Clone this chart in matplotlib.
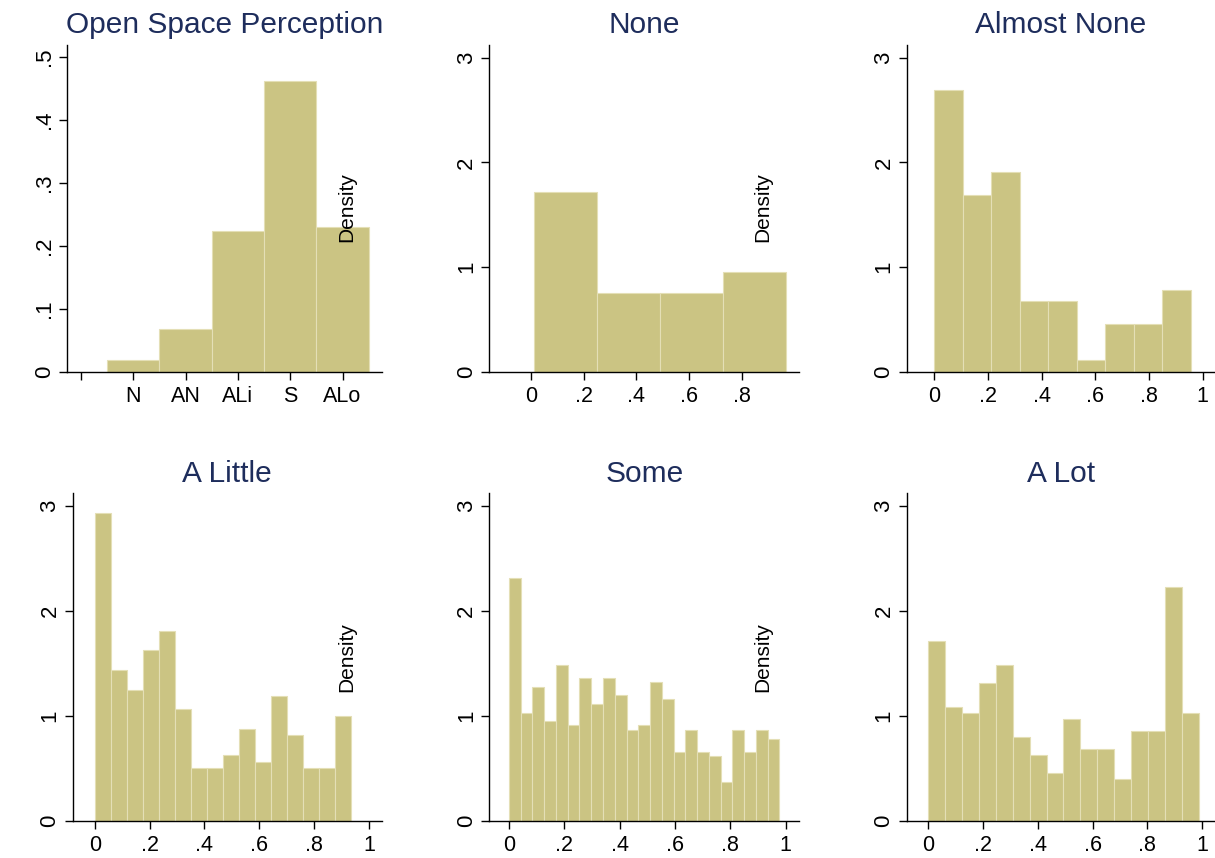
import numpy as np
import matplotlib
matplotlib.use("Agg")
import matplotlib.pyplot as plt

plt.rcParams["font.family"] = ["Liberation Sans", "DejaVu Sans"]

# ---- data ----
titles = ["Open Space Perception", "None", "Almost None", "A Little", "Some", "A Lot"]

# panel 1: categorical histogram
cat_pos = [1, 2, 3, 4, 5]
cat_labels = ["", "N", "AN", "ALi", "S", "ALo"]
cat_density = [0.019, 0.068, 0.223, 0.462, 0.230]

# panels 2-6: share histograms (bin start, bin width, densities)
none_start, none_width = 0.0125, 0.2386
none_density = [1.715, 0.757, 0.757, 0.954]

almost_start, almost_width = 0.0, 0.1061
almost_density = [2.695, 1.686, 1.908, 0.675, 0.675, 0.112, 0.455, 0.455, 0.786]

little_start, little_width = 0.0, 0.0584
little_density = [2.929, 1.439, 1.248, 1.624, 1.809, 1.064, 0.500, 0.500,
                  0.627, 0.873, 0.561, 1.185, 0.816, 0.500, 0.500, 1.000]

some_start, some_width = 0.0, 0.04248
some_density = [2.309, 1.029, 1.277, 0.946, 1.484, 0.911, 1.360, 1.111,
                1.360, 1.194, 0.863, 0.911, 1.318, 1.156, 0.656, 0.863,
                0.656, 0.618, 0.373, 0.863, 0.656, 0.863, 0.780]

lot_start, lot_width = 0.0, 0.0617
lot_density = [1.713, 1.086, 1.029, 1.312, 1.484, 0.796, 0.627, 0.455,
               0.968, 0.685, 0.685, 0.401, 0.857, 0.857, 2.229, 1.029]

share_ticks = [0, 0.2, 0.4, 0.6, 0.8, 1]
share_labels = ["0", ".2", ".4", ".6", ".8", "1"]

BAR = "#CBC483"
EDGE = "#E4DFB6"
TITLE = "#1E2D5C"

W, H = 1215, 858
fig = plt.figure(figsize=(W / 100, H / 100), dpi=100)
fig.patch.set_facecolor("white")

# plot regions in pixels: left, top, right, bottom
boxes = [
    (67, 45, 382, 372),
    (489.3, 45, 799.3, 372),
    (906.7, 45, 1215, 372),
    (72.7, 493.3, 381.7, 820.7),
    (489.3, 493.3, 799.3, 820.7),
    (906.7, 493.3, 1215, 820.7),
]
xlims = [(-0.268, 5.755), (-0.158, 1.018), (-0.103, 1.046),
         (-0.081, 1.047), (-0.071, 1.049), (-0.079, 1.047)]


def make_ax(box):
    l, t, r, b = box
    ax = fig.add_axes([l / W, 1 - b / H, (r - l) / W, (b - t) / H])
    for s in ("top", "right"):
        ax.spines[s].set_visible(False)
    for s in ("left", "bottom"):
        ax.spines[s].set_linewidth(1.0)
    ax.tick_params(length=5.8, width=1.0, color="black")
    ax.tick_params(axis="x", pad=4.3, labelsize=15.5)
    ax.tick_params(axis="y", pad=3.0, labelsize=16, labelrotation=90)
    return ax


def hist(ax, start, width, dens):
    x = start + width * np.arange(len(dens))
    ax.bar(x, dens, width=width, align="edge", color=BAR,
           edgecolor=EDGE, linewidth=0.8)


axes = [make_ax(b) for b in boxes]

# panel 1
ax = axes[0]
ax.bar(cat_pos, cat_density, width=1.0, color=BAR, edgecolor=EDGE, linewidth=0.8)
ax.set_xticks(range(6))
ax.set_xticklabels(cat_labels)
ax.set_ylim(0, 0.519)
ax.set_yticks([0, 0.1, 0.2, 0.3, 0.4, 0.5])
ax.set_yticklabels(["0", ".1", ".2", ".3", ".4", ".5"], rotation=90, va="center")

series = [
    (none_start, none_width, none_density),
    (almost_start, almost_width, almost_density),
    (little_start, little_width, little_density),
    (some_start, some_width, some_density),
    (lot_start, lot_width, lot_density),
]
for ax, (st, wd, dn) in zip(axes[1:], series):
    hist(ax, st, wd, dn)
    ax.set_ylim(0, 3.12)
    ax.set_yticks([0, 1, 2, 3])
    ax.set_yticklabels(["0", "1", "2", "3"], rotation=90, va="center")

axes[1].set_xticks(share_ticks[:-1])
axes[1].set_xticklabels(share_labels[:-1])
for ax in axes[2:]:
    ax.set_xticks(share_ticks)
    ax.set_xticklabels(share_labels)

for ax, xl, t in zip(axes, xlims, titles):
    ax.set_xlim(*xl)
    ax.set_title(t, fontsize=21.5, color=TITLE, pad=8.4)

# stray "Density" titles
for fx, fy in [(347, 207.5), (763, 207.5), (347, 657.5), (763, 657.5)]:
    fig.text(fx / W, 1 - fy / H, "Density", rotation=90, fontsize=15,
             ha="center", va="center", color="black")

fig.savefig("out.png", dpi=100)
